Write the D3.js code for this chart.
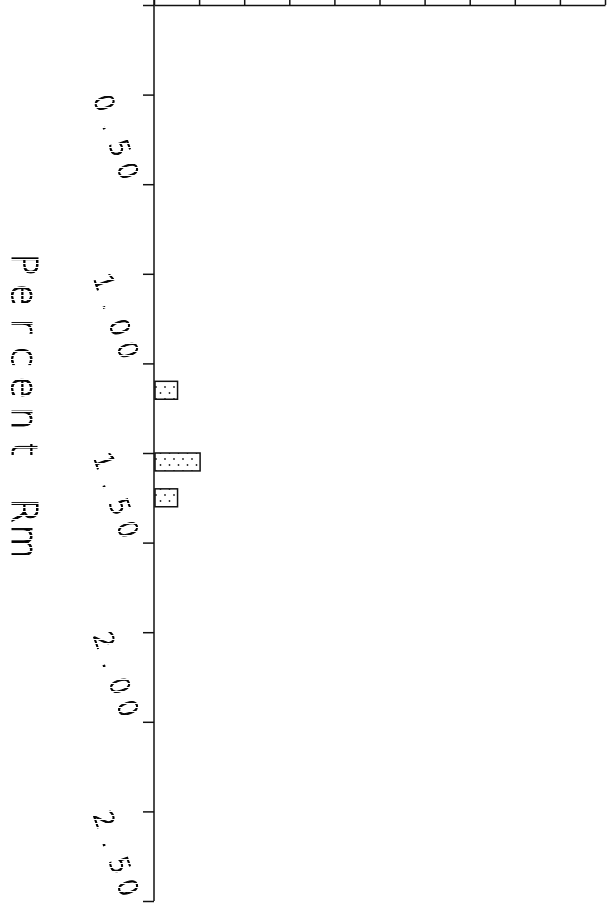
<!DOCTYPE html>
<html>
<head>
<meta charset="utf-8">
<script src="https://cdn.jsdelivr.net/npm/d3@7"></script>
<style>
  html, body { margin: 0; padding: 0; background: #fff; }
  svg { display: block; }
  .axis path, .axis line { stroke: #111; stroke-width: 1.5; }
  .lbl { font-family: 'DejaVu Sans', sans-serif; font-weight: 200; fill: #000;
         stroke: #000; stroke-width: 1; filter: grayscale(1); }
</style>
</head>
<body>
<script>
// histogram bins (Percent Rm) and their counts
const binStart = [1.05, 1.25, 1.35]
const binEnd = [1.10, 1.30, 1.40]
const counts = [1, 2, 1]

// axis ticks
const rmTicks = [0, 0.25, 0.5, 0.75, 1.0, 1.25, 1.5, 1.75, 2.0, 2.25, 2.5]
const rmLabels = ['0.50', '1.00', '1.50', '2.00', '2.50']
const rmLabelValues = [0.5, 1.0, 1.5, 2.0, 2.5]
const countTicks = [0, 2, 4, 6, 8, 10, 12, 14, 16, 18, 20]

const W = 609
const H = 907
const x0 = 154 // position of the Rm axis
const y0 = 5 // position of the count axis

const svg = d3.select('body').append('svg').attr('width', W).attr('height', H)

const y = d3.scaleLinear().domain([0, 2.5]).range([y0, 901])
const x = d3.scaleLinear().domain([0, 20]).range([x0, 605])

const defs = svg.append('defs')

/* dotted fill for the bars */
const pat = defs.append('pattern')
  .attr('id', 'dots').attr('patternUnits', 'userSpaceOnUse')
  .attr('width', 9).attr('height', 12)
pat.append('rect').attr('width', 9).attr('height', 12).attr('fill', '#fff')
pat.append('circle').attr('cx', 3).attr('cy', 3).attr('r', 0.9).attr('fill', '#222')
pat.append('circle').attr('cx', 7.5).attr('cy', 9).attr('r', 0.9).attr('fill', '#222')

/* broken-stroke look of the printed text */
const grid = defs.append('pattern')
  .attr('id', 'grid').attr('patternUnits', 'userSpaceOnUse')
  .attr('width', 4).attr('height', 4)
grid.append('rect').attr('width', 4).attr('height', 3).attr('fill', '#fff')
defs.append('mask').attr('id', 'dotted')
  .attr('maskUnits', 'userSpaceOnUse')
  .attr('x', 0).attr('y', 0).attr('width', W).attr('height', H)
  .append('rect').attr('width', W).attr('height', H).attr('fill', 'url(#grid)')

svg.append('g').selectAll('rect')
  .data(counts)
  .enter().append('rect')
  .attr('x', x(0) + 1)
  .attr('y', (d, i) => y(binStart[i]))
  .attr('width', d => x(d) - x(0))
  .attr('height', (d, i) => y(binEnd[i]) - y(binStart[i]))
  .attr('fill', 'url(#dots)')
  .attr('stroke', '#111')
  .attr('stroke-width', 1.5)

/* Rm axis (vertical) */
svg.append('g').attr('class', 'axis')
  .attr('transform', `translate(${x0},0)`)
  .call(d3.axisLeft(y).tickValues(rmTicks).tickSize(11).tickSizeOuter(0).tickFormat(''))
  .call(g => g.select('.domain').attr('d', `M0,0V${y(2.5)}`))

/* count axis (top) */
svg.append('g').attr('class', 'axis')
  .attr('transform', `translate(0,${y0})`)
  .call(d3.axisTop(x).tickValues(countTicks).tickSize(10).tickSizeOuter(0).tickFormat(''))

/* fixed-pitch text: one tspan per character */
function spaced (sel, str, pitch) {
  sel.selectAll('tspan')
    .data(str.split(''))
    .enter().append('tspan')
    .attr('x', (c, i) => (i + 0.5) * pitch)
    .attr('text-anchor', 'middle')
    .text(c => c)
}

const texts = svg.append('g').attr('mask', 'url(#dotted)')

/* tilted tick labels, ending just above their tick */
const pitch = 24
texts.append('g').selectAll('text')
  .data(rmLabelValues)
  .enter().append('text')
  .attr('class', 'lbl')
  .attr('transform', d => `translate(${x0 - 31},${y(d) + 1}) rotate(71) translate(${-4 * pitch},0)`)
  .style('font-size', '26px')
  .each(function (d, i) { spaced(d3.select(this), rmLabels[i], pitch) })

/* axis title */
texts.append('text')
  .attr('class', 'lbl')
  .attr('transform', 'translate(12,249) rotate(90)')
  .style('font-size', '36px')
  .call(spaced, 'Percent Rm', 30.8)
</script>
</body>
</html>
